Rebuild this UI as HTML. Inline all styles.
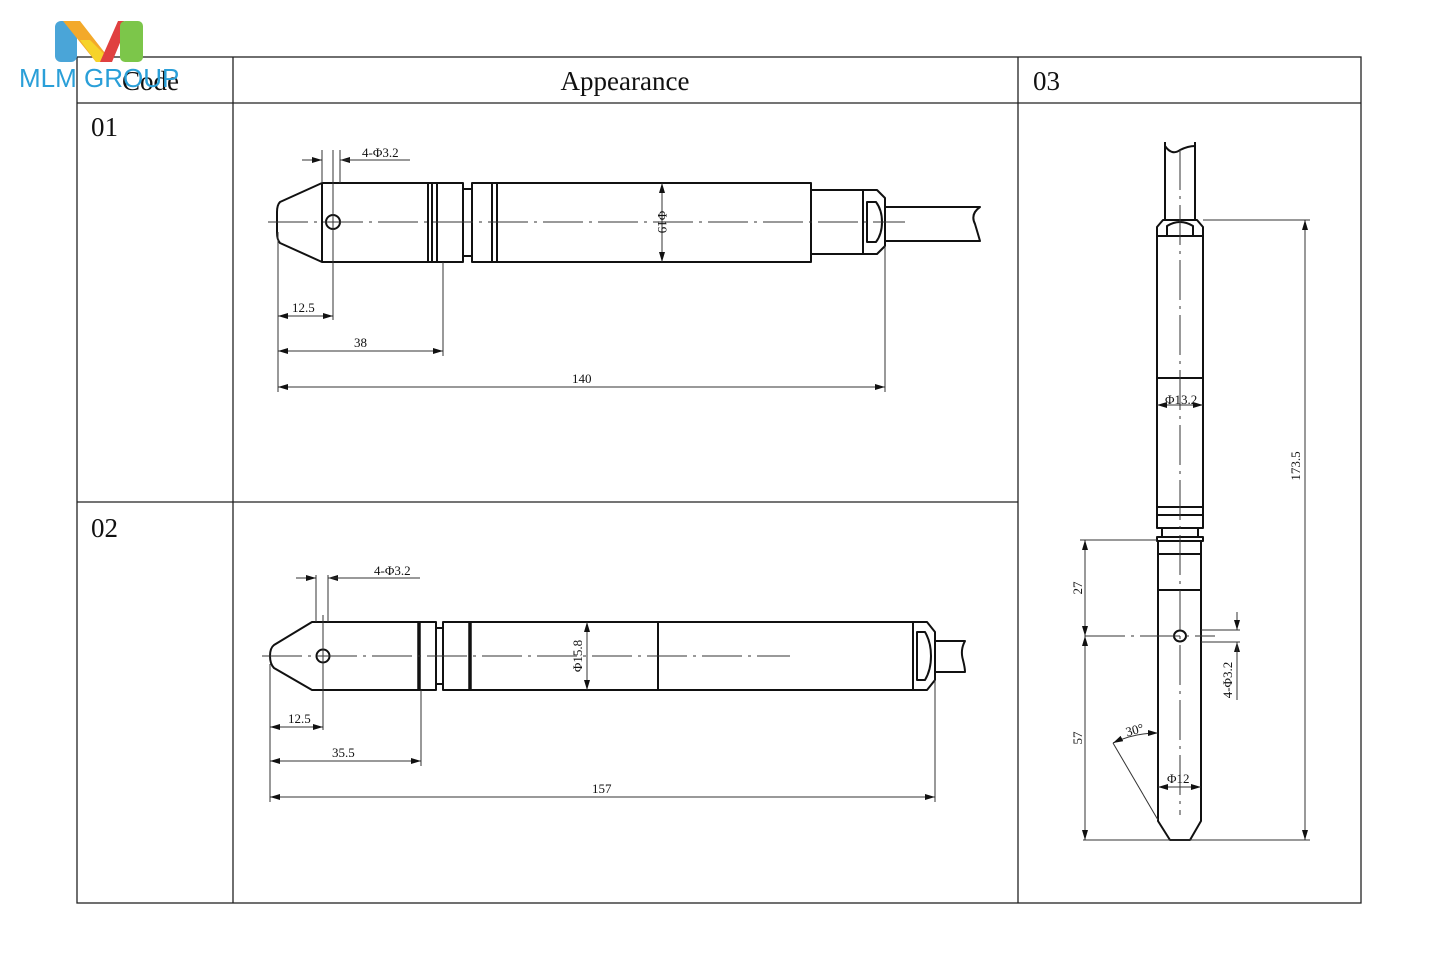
<!DOCTYPE html>
<html><head><meta charset="utf-8"><style>
html,body{margin:0;padding:0;background:#fff;}
svg{display:block;}
text{font-family:"Liberation Serif",serif;fill:#111;}
.d{font-size:13px;}
</style></head><body>
<svg width="1440" height="957" viewBox="0 0 1440 957" xmlns="http://www.w3.org/2000/svg">
<defs>
<marker id="a" viewBox="0 0 10 6" refX="10" refY="3" markerWidth="10" markerHeight="6" orient="auto-start-reverse" markerUnits="userSpaceOnUse"><path d="M0,0 L10,3 L0,6 z" fill="#111"/></marker>
</defs>
<!-- table -->
<g stroke="#222" stroke-width="1.3" fill="none">
<rect x="77" y="57" width="1284" height="846"/>
<line x1="77" y1="103" x2="1361" y2="103"/>
<line x1="233" y1="57" x2="233" y2="903"/>
<line x1="1018" y1="57" x2="1018" y2="903"/>
<line x1="77" y1="502" x2="1018" y2="502"/>
</g>
<text x="122" y="90" font-size="27">Code</text>
<text x="625" y="90" font-size="27" text-anchor="middle">Appearance</text>
<text x="1033" y="90" font-size="27">03</text>
<text x="91" y="136" font-size="27">01</text>
<text x="91" y="537" font-size="27">02</text>
<!-- logo -->
<rect x="55" y="21" width="22" height="41" rx="6" fill="#4aa5d8"/>
<path d="M63,21 L80,21 L112,62 L96,62 Z" fill="#f3a92a"/>
<path d="M80,40 L96,62 L112,62 L90,40Z" fill="#f6d32a"/>
<path d="M100,62 L118,21 L124,21 Q127,28 122,38 L112,62 Z" fill="#e04040"/>
<rect x="120" y="21" width="23" height="41" rx="5" fill="#7cc64a"/>
<text x="19" y="87" font-size="26" style="font-family:'Liberation Sans',sans-serif;fill:#2a9fd8">MLM GROUP</text>

<!-- Drawing 01 -->
<g stroke="#111" stroke-width="2" fill="none" stroke-linejoin="round">
<path d="M322,183 L463,183 L463,189 L472,189 L472,183 L811,183 L811,262 L472,262 L472,256 L463,256 L463,262 L322,262 L280,243 Q277,240 277,232 L277,212 Q277,205 280,202 Z"/>
<line x1="322" y1="183" x2="322" y2="262"/>
<circle cx="333" cy="222" r="7"/>
<line x1="428" y1="183" x2="428" y2="262"/>
<line x1="432" y1="183" x2="432" y2="262"/>
<line x1="437" y1="183" x2="437" y2="262"/>
<line x1="463" y1="183" x2="463" y2="262"/>
<line x1="472" y1="183" x2="472" y2="262"/>
<line x1="492" y1="183" x2="492" y2="262"/>
<line x1="497" y1="183" x2="497" y2="262"/>
<path d="M811,190 L863,190 L863,254 L811,254"/>
<path d="M863,190 L877,190 L885,198 L885,246 L877,254 L863,254"/>
<path d="M867,202 L876,202 Q882,210 882,222 Q882,234 876,242 L867,242 Z"/>
<path d="M885,207 L980,207 Q970,214 975,224 Q978,234 980,241 L885,241"/>
</g>
<g stroke="#333" stroke-width="1" fill="none">
<line x1="268" y1="222" x2="905" y2="222" stroke-dasharray="40,6,3,6"/>
<line x1="333" y1="150" x2="333" y2="320"/>
<line x1="322" y1="150" x2="322" y2="183"/>
<line x1="340" y1="150" x2="340" y2="183"/>
<line x1="302" y1="160" x2="322" y2="160" marker-end="url(#a)"/>
<line x1="360" y1="160" x2="340" y2="160" marker-end="url(#a)"/>
<line x1="340" y1="160" x2="410" y2="160"/>
<line x1="278" y1="232" x2="278" y2="392"/>
<line x1="443" y1="262" x2="443" y2="356"/>
<line x1="885" y1="246" x2="885" y2="392"/>
<line x1="278" y1="316" x2="333" y2="316" marker-start="url(#a)" marker-end="url(#a)"/>
<line x1="278" y1="351" x2="443" y2="351" marker-start="url(#a)" marker-end="url(#a)"/>
<line x1="278" y1="387" x2="885" y2="387" marker-start="url(#a)" marker-end="url(#a)"/>
<line x1="662" y1="183" x2="662" y2="262" marker-start="url(#a)" marker-end="url(#a)"/>
</g>
<text class="d" x="362" y="157">4-Φ3.2</text>
<text class="d" x="292" y="312">12.5</text>
<text class="d" x="354" y="347">38</text>
<text class="d" x="572" y="383">140</text>
<text class="d" transform="translate(658,222) rotate(90)" text-anchor="middle">Φ19</text>

<!-- Drawing 02 -->
<g stroke="#111" stroke-width="2" fill="none" stroke-linejoin="round">
<path d="M312,622 L436,622 L436,628 L443,628 L443,622 L913,622 L913,690 L443,690 L443,684 L436,684 L436,690 L312,690 L274,668 Q270,664 270,656 Q270,648 274,645 Z"/>
<circle cx="323" cy="656" r="6.5"/>
<line x1="419" y1="622" x2="419" y2="690" stroke-width="3.5"/>
<line x1="436" y1="622" x2="436" y2="690"/>
<line x1="443" y1="622" x2="443" y2="690"/>
<line x1="470" y1="622" x2="470" y2="690" stroke-width="3.5"/>
<line x1="658" y1="622" x2="658" y2="690"/>
<path d="M913,622 L927,622 L935,632 L935,680 L927,690 L913,690"/>
<path d="M917,632 L925,632 Q931,642 931,656 Q931,670 925,680 L917,680 Z"/>
<path d="M935,641 L965,641 Q960,650 963,660 Q965,668 965,672 L935,672"/>
</g>
<g stroke="#333" stroke-width="1" fill="none">
<line x1="262" y1="656" x2="790" y2="656" stroke-dasharray="40,6,3,6"/>
<line x1="323" y1="615" x2="323" y2="730"/>
<line x1="316" y1="575" x2="316" y2="622"/>
<line x1="328" y1="575" x2="328" y2="622"/>
<line x1="296" y1="578" x2="316" y2="578" marker-end="url(#a)"/>
<line x1="348" y1="578" x2="328" y2="578" marker-end="url(#a)"/>
<line x1="328" y1="578" x2="420" y2="578"/>
<line x1="270" y1="664" x2="270" y2="802"/>
<line x1="421" y1="690" x2="421" y2="766"/>
<line x1="935" y1="680" x2="935" y2="802"/>
<line x1="270" y1="727" x2="323" y2="727" marker-start="url(#a)" marker-end="url(#a)"/>
<line x1="270" y1="761" x2="421" y2="761" marker-start="url(#a)" marker-end="url(#a)"/>
<line x1="270" y1="797" x2="935" y2="797" marker-start="url(#a)" marker-end="url(#a)"/>
<line x1="587" y1="622" x2="587" y2="690" marker-start="url(#a)" marker-end="url(#a)"/>
</g>
<text class="d" x="374" y="575">4-Φ3.2</text>
<text class="d" x="288" y="723">12.5</text>
<text class="d" x="332" y="757">35.5</text>
<text class="d" x="592" y="793">157</text>
<text class="d" transform="translate(582,656) rotate(-90)" text-anchor="middle">Φ15.8</text>

<!-- Drawing 03 -->
<g stroke="#111" stroke-width="2" fill="none" stroke-linejoin="round">
<path d="M1165,142 L1165,220 M1195,142 L1195,220"/>
<path d="M1165,146 Q1172,156 1180,150 Q1188,146 1195,146"/>
<path d="M1163,220 L1197,220 L1203,227 L1203,507 L1157,507 L1157,227 Z"/>
<line x1="1157" y1="236" x2="1203" y2="236"/>
<path d="M1167,236 L1167,226 Q1180,218 1193,226 L1193,236"/>
<line x1="1157" y1="378" x2="1203" y2="378"/>
<rect x="1157" y="507" width="46" height="21"/>
<line x1="1157" y1="515" x2="1203" y2="515"/>
<rect x="1162" y="528" width="36" height="9"/>
<rect x="1157" y="537" width="46" height="4"/>
<path d="M1158,541 L1158,821 L1170,840 L1190,840 L1201,821 L1201,541"/>
<line x1="1158" y1="554" x2="1201" y2="554"/>
<line x1="1158" y1="590" x2="1201" y2="590"/>
<ellipse cx="1180" cy="636" rx="6" ry="5.5"/>
</g>
<g stroke="#333" stroke-width="1" fill="none">
<line x1="1180" y1="150" x2="1180" y2="815" stroke-dasharray="40,6,3,6"/>
<line x1="1085" y1="636" x2="1215" y2="636" stroke-dasharray="40,6,3,6"/>
<line x1="1203" y1="220" x2="1310" y2="220"/>
<line x1="1083" y1="840" x2="1310" y2="840"/>
<line x1="1080" y1="540" x2="1157" y2="540"/>
<line x1="1305" y1="220" x2="1305" y2="840" marker-start="url(#a)" marker-end="url(#a)"/>
<line x1="1085" y1="540" x2="1085" y2="636" marker-start="url(#a)" marker-end="url(#a)"/>
<line x1="1085" y1="636" x2="1085" y2="840" marker-start="url(#a)" marker-end="url(#a)"/>
<line x1="1157" y1="405" x2="1203" y2="405" marker-start="url(#a)" marker-end="url(#a)"/>
<line x1="1158" y1="787" x2="1201" y2="787" marker-start="url(#a)" marker-end="url(#a)"/>
<line x1="1201" y1="630" x2="1240" y2="630"/>
<line x1="1201" y1="642" x2="1240" y2="642"/>
<line x1="1237" y1="612" x2="1237" y2="630" marker-end="url(#a)"/>
<line x1="1237" y1="660" x2="1237" y2="642" marker-end="url(#a)"/>
<line x1="1237" y1="642" x2="1237" y2="700"/>
<line x1="1158" y1="820" x2="1113" y2="743"/>
<path d="M1113,743 Q1133,733 1158,733" marker-start="url(#a)" marker-end="url(#a)"/>
</g>
<text class="d" x="1165" y="404">Φ13.2</text>
<text class="d" x="1167" y="783">Φ12</text>
<text class="d" x="1126" y="735" font-size="11" transform="rotate(-15,1132,732)">30°</text>
<text class="d" transform="translate(1300,466) rotate(-90)" text-anchor="middle">173.5</text>
<text class="d" transform="translate(1082,588) rotate(-90)" text-anchor="middle">27</text>
<text class="d" transform="translate(1082,738) rotate(-90)" text-anchor="middle">57</text>
<text class="d" transform="translate(1232,680) rotate(-90)" text-anchor="middle">4-Φ3.2</text>
</svg>
</body></html>
